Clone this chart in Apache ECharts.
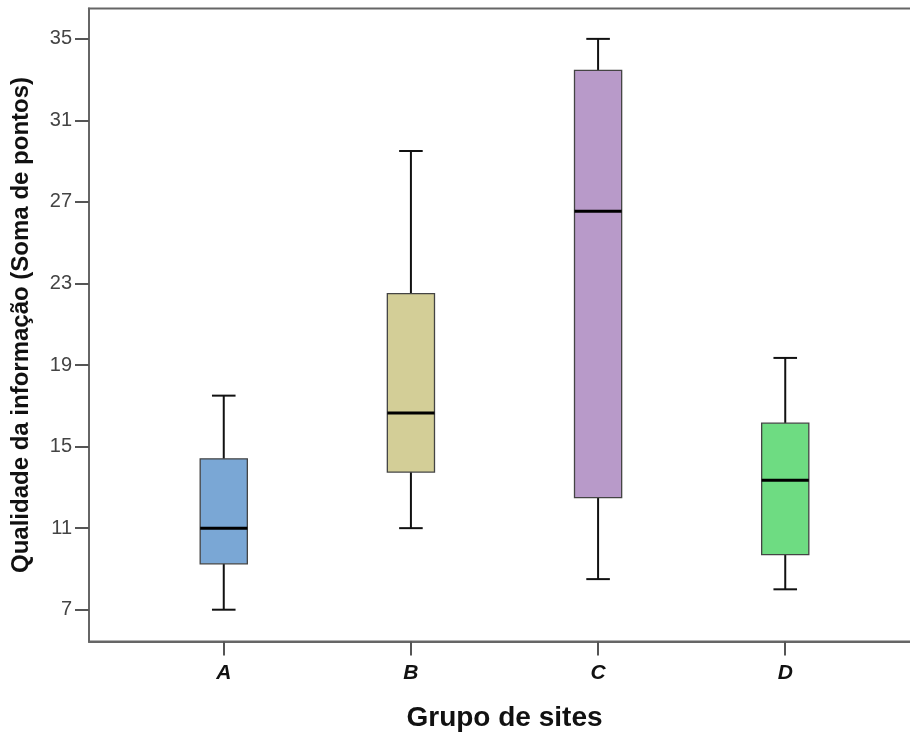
<!DOCTYPE html>
<html>
<head>
<meta charset="utf-8">
<script src="https://cdn.jsdelivr.net/npm/echarts@6/dist/echarts.min.js"></script>
<style>html,body{margin:0;padding:0;background:#fff;overflow:hidden;}#c{width:910px;height:733px;}</style>
</head>
<body>
<div id="c"></div>
<script>
const categories = ['A', 'B', 'C', 'D'];
const whiskerLow = [7.0, 11.0, 8.5, 8.0];
const q1 = [9.25, 13.75, 12.5, 9.7];
const median = [11.0, 16.65, 26.55, 13.35];
const q3 = [14.4, 22.5, 33.45, 16.15];
const whiskerHigh = [17.5, 29.5, 35.0, 19.35];
const boxColors = ['#7aa7d5', '#d3ce97', '#b89ac9', '#6edc82'];
const yTicks = [7, 11, 15, 19, 23, 27, 31, 35];

const data = categories.map((c, i) => [i, whiskerLow[i], q1[i], median[i], q3[i], whiskerHigh[i]]);

const chart = echarts.init(document.getElementById('c'), null, {renderer: 'canvas', width: 910, height: 733});
chart.setOption({
  backgroundColor: '#ffffff',
  animation: false,
  grid: {left: 89, width: 831, top: 8.5, height: 633, outerBoundsMode: 'none', containLabel: false,
    show: true, borderColor: '#666', borderWidth: 2, backgroundColor: 'transparent'},
  xAxis: {
    type: 'value', min: -0.72, max: 3.72,
    name: 'Grupo de sites', nameLocation: 'middle', nameGap: 63,
    nameTextStyle: {fontFamily: 'Liberation Sans', fontWeight: 'bold', fontSize: 28, color: '#111'},
    axisLine: {show: true, onZero: false, lineStyle: {color: '#666', width: 2}},
    axisTick: {show: true, length: 14, customValues: [0, 1, 2, 3], lineStyle: {color: '#555', width: 2}},
    axisLabel: {customValues: [0, 1, 2, 3], margin: 21, formatter: v => categories[Math.round(v)] || '',
      fontFamily: 'Liberation Sans', fontWeight: 'bold', fontStyle: 'italic', fontSize: 21, color: '#111'},
    splitLine: {show: false}
  },
  yAxis: {
    type: 'value', min: 5.44, max: 36.49,
    name: 'Qualidade da informação (Soma de pontos)', nameLocation: 'middle', nameGap: 56, nameRotate: 90,
    nameTextStyle: {fontFamily: 'Liberation Sans', fontWeight: 'bold', fontSize: 24, color: '#111'},
    axisLine: {show: true, onZero: false, lineStyle: {color: '#666', width: 2}},
    axisTick: {show: true, length: 14, customValues: yTicks, lineStyle: {color: '#555', width: 2}},
    axisLabel: {customValues: yTicks, margin: 17, fontFamily: 'Liberation Sans Narrow, Liberation Sans', fontSize: 20, color: '#444', padding: [6, 0, 0, 0]},
    splitLine: {show: false}
  },
  series: [{
    type: 'custom',
    data: data,
    encode: {x: 0, y: [1, 2, 3, 4, 5]},
    renderItem: function (params, api) {
      const x = api.value(0);
      const idx = params.dataIndex;
      const pLo = api.coord([x, api.value(1)]);
      const pQ1 = api.coord([x, api.value(2)]);
      const pMed = api.coord([x, api.value(3)]);
      const pQ3 = api.coord([x, api.value(4)]);
      const pHi = api.coord([x, api.value(5)]);
      const boxW = api.size([0.252, 0])[0];
      const capW = boxW / 2;
      const cx = pMed[0];
      const wStyle = {stroke: '#111', lineWidth: 2};
      return {
        type: 'group',
        children: [
          {type: 'line', shape: {x1: cx, y1: pLo[1], x2: cx, y2: pQ1[1]}, style: wStyle},
          {type: 'line', shape: {x1: cx, y1: pQ3[1], x2: cx, y2: pHi[1]}, style: wStyle},
          {type: 'line', shape: {x1: cx - capW / 2, y1: pLo[1], x2: cx + capW / 2, y2: pLo[1]}, style: wStyle},
          {type: 'line', shape: {x1: cx - capW / 2, y1: pHi[1], x2: cx + capW / 2, y2: pHi[1]}, style: wStyle},
          {type: 'rect', shape: {x: cx - boxW / 2, y: pQ3[1], width: boxW, height: pQ1[1] - pQ3[1]},
            style: {fill: boxColors[idx], stroke: '#444', lineWidth: 1.3}},
          {type: 'line', shape: {x1: cx - boxW / 2, y1: pMed[1], x2: cx + boxW / 2, y2: pMed[1]}, style: {stroke: '#000', lineWidth: 3}}
        ]
      };
    }
  }]
});
</script>
</body>
</html>
